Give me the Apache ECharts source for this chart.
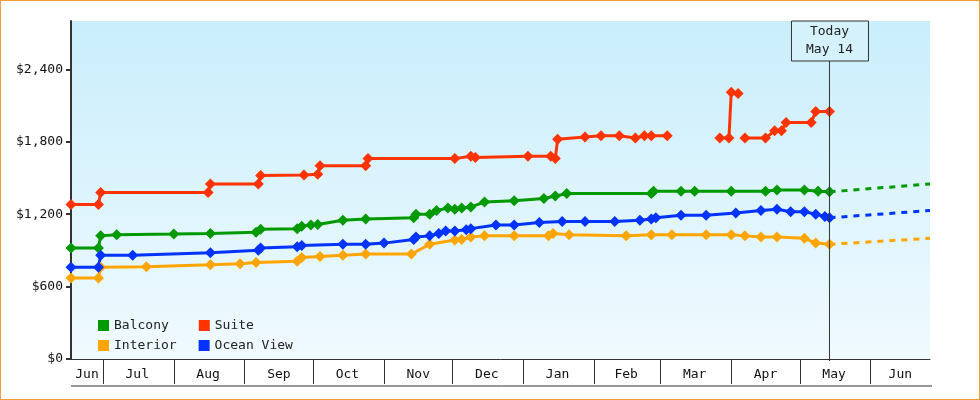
<!DOCTYPE html>
<html><head><meta charset="utf-8">
<script src="https://cdn.jsdelivr.net/npm/echarts@6/dist/echarts.min.js"></script>
<style>body{margin:0}#c{width:980px;height:400px;box-sizing:border-box;border:1px solid #f0a030;background:#fff}</style>
</head><body><div id="c"></div>
<script>
const monthStarts = ["2023-07-01","2023-08-01","2023-09-01","2023-10-01","2023-11-01","2023-12-01","2024-01-01","2024-02-01","2024-03-01","2024-04-01","2024-05-01","2024-06-01"];
const monthMids = ["2023-06-24","2023-07-16","2023-08-16","2023-09-16","2023-10-16","2023-11-16","2023-12-16","2024-01-16","2024-02-15","2024-03-16","2024-04-16","2024-05-16","2024-06-14"];
const monthNames = ["Jun","Jul","Aug","Sep","Oct","Nov","Dec","Jan","Feb","Mar","Apr","May","Jun"];
const todayDate = "2024-05-14";
const balcony = [["2023-06-17",920],["2023-06-29",920],["2023-06-30",1020],["2023-07-07",1030],["2023-08-01",1035],["2023-08-17",1040],["2023-09-06",1050],["2023-09-08",1075],["2023-09-24",1080],["2023-09-26",1100],["2023-09-30",1110],["2023-10-03",1115],["2023-10-14",1150],["2023-10-24",1160],["2023-11-14",1170],["2023-11-15",1200],["2023-11-21",1200],["2023-11-24",1230],["2023-11-29",1250],["2023-12-02",1240],["2023-12-05",1250],["2023-12-09",1260],["2023-12-15",1300],["2023-12-28",1310],["2024-01-10",1330],["2024-01-15",1350],["2024-01-20",1370],["2024-02-26",1370],["2024-02-27",1390],["2024-03-10",1390],["2024-03-16",1390],["2024-04-01",1390],["2024-04-16",1390],["2024-04-21",1400],["2024-05-03",1400],["2024-05-09",1390],["2024-05-14",1385]];
const suite = [["2023-06-17",1280],["2023-06-29",1280],["2023-06-30",1380],["2023-08-16",1380],["2023-08-17",1450],["2023-09-07",1450],["2023-09-08",1520],["2023-09-27",1525],["2023-10-03",1530],["2023-10-04",1600],["2023-10-24",1600],["2023-10-25",1660],["2023-12-02",1660],["2023-12-09",1680],["2023-12-11",1670],["2024-01-03",1680],["2024-01-13",1680],["2024-01-15",1660],["2024-01-16",1820],["2024-01-28",1840],["2024-02-04",1850],["2024-02-12",1850],["2024-02-19",1830],["2024-02-23",1850],["2024-02-26",1850],["2024-03-04",1850],["2024-03-05",null],["2024-03-27",1830],["2024-03-31",1830],["2024-04-01",2210],["2024-04-04",2200],["2024-04-05",null],["2024-04-07",1830],["2024-04-16",1830],["2024-04-20",1890],["2024-04-23",1890],["2024-04-25",1960],["2024-05-06",1960],["2024-05-08",2050],["2024-05-14",2050]];
const interior = [["2023-06-17",670],["2023-06-29",670],["2023-06-30",760],["2023-07-20",765],["2023-08-17",780],["2023-08-30",790],["2023-09-06",800],["2023-09-24",810],["2023-09-26",840],["2023-10-04",850],["2023-10-14",860],["2023-10-24",870],["2023-11-13",870],["2023-11-21",950],["2023-12-02",985],["2023-12-05",990],["2023-12-09",1010],["2023-12-15",1020],["2023-12-28",1020],["2024-01-12",1020],["2024-01-14",1040],["2024-01-21",1030],["2024-02-15",1020],["2024-02-26",1030],["2024-03-06",1030],["2024-03-21",1030],["2024-04-01",1030],["2024-04-07",1020],["2024-04-14",1010],["2024-04-21",1010],["2024-05-03",1000],["2024-05-08",960],["2024-05-14",950]];
const oceanView = [["2023-06-17",760],["2023-06-29",760],["2023-06-30",860],["2023-07-14",860],["2023-08-17",880],["2023-09-07",900],["2023-09-08",920],["2023-09-24",930],["2023-09-26",940],["2023-10-14",950],["2023-10-24",950],["2023-11-01",960],["2023-11-14",990],["2023-11-15",1010],["2023-11-21",1020],["2023-11-25",1040],["2023-11-28",1060],["2023-12-02",1060],["2023-12-07",1070],["2023-12-09",1080],["2023-12-20",1110],["2023-12-28",1110],["2024-01-08",1130],["2024-01-18",1140],["2024-01-28",1140],["2024-02-10",1140],["2024-02-21",1150],["2024-02-26",1160],["2024-02-28",1170],["2024-03-10",1190],["2024-03-21",1190],["2024-04-03",1210],["2024-04-14",1230],["2024-04-21",1240],["2024-04-27",1220],["2024-05-03",1220],["2024-05-08",1200],["2024-05-12",1180],["2024-05-14",1170]];
const forecastEnd = "2024-06-27";
const balconyForecast = [["2024-05-14",1385],[forecastEnd,1450]];
const interiorForecast = [["2024-05-14",950],[forecastEnd,1000]];
const oceanForecast = [["2024-05-14",1170],[forecastEnd,1230]];
const yTicks = [0,600,1200,1800,2400];

const C = {Balcony:'#009900',Suite:'#ff3300',Interior:'#ffa500','Ocean View':'#0033ff'};
const font = 'DejaVu Sans Mono';
const ts = s => new Date(s+'T00:00:00Z').getTime();
function line(name,data,dashed){
  return {name:name,type:'line',data:data.map(d=>[ts(d[0]),d[1]]),
    connectNulls:false,symbol:dashed?'none':'diamond',symbolSize:11,showSymbol:!dashed,
    itemStyle:{color:C[name]},lineStyle:{color:C[name],width:3,type:dashed?[6,6]:'solid'},
    silent:true,z:dashed?2:3};
}
const midTs = monthMids.map(ts);
const chart = echarts.init(document.getElementById('c'));
const legendCommon = {icon:'rect',itemWidth:11,itemHeight:11,left:92,
  textStyle:{fontFamily:font,fontSize:13,color:'#222'},selectedMode:false};
chart.setOption({
  animation:false,
  textStyle:{fontFamily:font},
  grid:{left:70,right:49,top:20,bottom:40,show:true,borderWidth:0,
    backgroundColor:{type:'linear',x:0,y:0,x2:0,y2:1,colorStops:[{offset:0,color:'#c9eefb'},{offset:1,color:'#f0faff'}]}},
  legend:[
    Object.assign({},legendCommon,{top:313,data:['Balcony','Suite'],itemGap:30}),
    Object.assign({},legendCommon,{top:333,data:['Interior','Ocean View'],itemGap:22})
  ],
  xAxis:{type:'value',min:ts('2023-06-17'),max:ts(forecastEnd),
    axisLine:{show:true,onZero:false,lineStyle:{color:'#333',width:1}},
    axisTick:{show:true,customValues:monthStarts.map(ts),length:25,lineStyle:{color:'#333'}},
    axisLabel:{customValues:midTs,margin:9,color:'#111',fontSize:13,fontFamily:font,
      formatter:(v)=>{const i=midTs.indexOf(v);return i>=0?monthNames[i]:'';}},
    splitLine:{show:false}},
  yAxis:{type:'value',min:0,max:2800,interval:600,
    axisLine:{show:true,lineStyle:{color:'#333',width:2}},
    axisTick:{show:true,length:5,lineStyle:{color:'#333',width:2},customValues:yTicks},
    axisLabel:{customValues:yTicks,color:'#111',fontSize:13,fontFamily:font,
      formatter:v=>'$'+v.toLocaleString('en-US')},
    splitLine:{show:false}},
  series:[
    line('Balcony',balcony),line('Suite',suite),line('Interior',interior),line('Ocean View',oceanView),
    line('Balcony',balconyForecast,true),line('Interior',interiorForecast,true),line('Ocean View',oceanForecast,true)
  ]
});
const tx = chart.convertToPixel({xAxisIndex:0},ts(todayDate));
chart.setOption({graphic:[
  {type:'line',shape:{x1:tx,y1:60,x2:tx,y2:360},style:{stroke:'#333',lineWidth:1},z:10},
  {type:'rect',shape:{x:tx-38,y:20,width:77,height:40},style:{fill:'#d4f1fc',stroke:'#333',lineWidth:1},z:10},
  {type:'text',x:tx,y:40,style:{text:'Today\nMay 14',fill:'#222',font:'13px "DejaVu Sans Mono"',align:'center',verticalAlign:'middle',lineHeight:18},z:11},
  {type:'line',shape:{x1:70,y1:385,x2:931,y2:385},style:{stroke:'#333',lineWidth:1},z:10}
]});
</script></body></html>
